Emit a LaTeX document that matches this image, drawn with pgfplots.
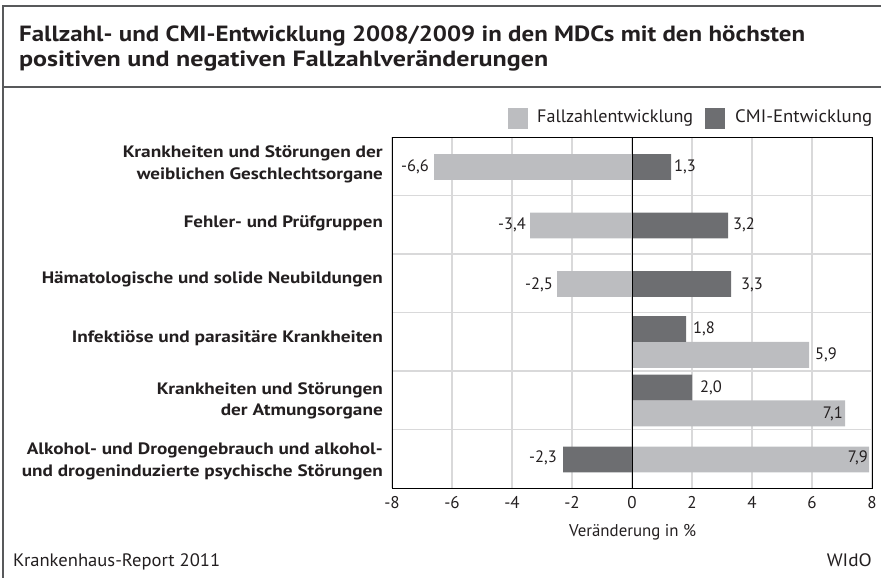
\documentclass[border=0pt]{standalone}
\usepackage{pgfplots}
\pgfplotsset{compat=1.18}
\usepackage{fontspec}
\setmainfont{PT Sans}
\usepackage{graphicx}

\definecolor{lightbar}{HTML}{BCBDC0}
\definecolor{darkbar}{HTML}{6D6E71}
\definecolor{gridc}{HTML}{D9D9DA}
\definecolor{framec}{HTML}{58595B}
\definecolor{txt}{HTML}{231F20}

% fit text to a measured width, natural height
\newcommand\fitw[2]{\resizebox{#1}{\height}{#2}}
\newcommand\catfont{\fontsize{16.5}{19}\selectfont\bfseries}
\newcommand\numfont{\fontsize{16.5}{19}\selectfont}

\begin{document}
\begin{tikzpicture}[x=1pt,y=1pt,every node/.style={inner sep=0pt,text=txt}]
\useasboundingbox (0,0) rectangle (881,578);

% frame
\draw[framec, line width=1.6pt] (3,0) -- (3,572) -- (881,572);
\draw[framec, line width=1.6pt] (3,491) -- (881,491);

% title
\node[anchor=base west] at (19,536) {\fitw{786pt}{\fontsize{22}{26}\selectfont\bfseries Fallzahl- und CMI-Entwicklung 2008/2009 in den MDCs mit den höchsten}};
\node[anchor=base west] at (19,511) {\fitw{529pt}{\fontsize{22}{26}\selectfont\bfseries positiven und negativen Fallzahlveränderungen}};

% legend
\fill[lightbar] (508,449) rectangle (528,470);
\node[anchor=base west] at (537,455) {\fitw{156pt}{\fontsize{18}{21}\selectfont Fallzahlentwicklung}};
\fill[darkbar] (705,449) rectangle (725,470);
\node[anchor=base west] at (735,455) {\fitw{137pt}{\fontsize{18}{21}\selectfont CMI-Entwicklung}};

\begin{axis}[
    at={(392pt,90pt)}, anchor=south west,
    scale only axis, width=480pt, height=351pt,
    xmin=-8, xmax=8, ymin=0, ymax=6,
    xtick={-8,-6,-4,-2,0,2,4,6,8},
    xticklabels={-8,-6,-4,-2,0,2,4,6,8},
    ytick={1,2,3,4,5}, yticklabels={},
    xmajorgrids, ymajorgrids,
    major grid style={gridc, line width=1.2pt},
    major tick length=0pt,
    axis line style={black, line width=0.7pt},
    xticklabel style={font=\fontsize{17}{20}\selectfont, text=txt, anchor=base, yshift=-21pt},
    xbar, bar width=0.444, bar shift=0pt,
    clip=false,
]
% Fallzahlentwicklung
\addplot[fill=lightbar, draw=none] coordinates {
    (-6.6,5.487) (-3.4,4.487) (-2.5,3.487) (5.9,2.274) (7.1,1.274) (7.9,0.487)
};
% CMI-Entwicklung
\addplot[fill=darkbar, draw=none] coordinates {
    (1.3,5.487) (3.2,4.487) (3.3,3.487) (1.8,2.718) (2.0,1.718) (-2.3,0.487)
};
\draw[black, line width=0.9pt] (axis cs:0,0) -- (axis cs:0,6);
\draw[black, line width=0.7pt] (rel axis cs:0,0) rectangle (rel axis cs:1,1);
\end{axis}

% value labels
\begin{scope}[every node/.append style={font=\numfont}]
\node[anchor=base east] at (429,406) {-6,6};
\node[anchor=base west] at (674,406) {1,3};
\node[anchor=base east] at (526,348) {-3,4};
\node[anchor=base west] at (733,348) {3,2};
\node[anchor=base east] at (553,288) {-2,5};
\node[anchor=base west] at (741,288) {3,3};
\node[anchor=base west] at (693,244) {1,8};
\node[anchor=base west] at (815,218) {5,9};
\node[anchor=base west] at (700,185) {2,0};
\node[anchor=base east] at (843,159) {7,1};
\node[anchor=base east] at (557,115) {-2,3};
\node[anchor=base east] at (868,115) {7,9};
\end{scope}

% category labels
\node[anchor=base east] at (383,420) {\fitw{260pt}{\catfont Krankheiten und Störungen der}};
\node[anchor=base east] at (383,398) {\fitw{246pt}{\catfont weiblichen Geschlechtsorgane}};
\node[anchor=base east] at (383,350) {\fitw{199pt}{\catfont Fehler- und Prüfgruppen}};
\node[anchor=base east] at (383,294) {\fitw{341pt}{\catfont Hämatologische und solide Neubildungen}};
\node[anchor=base east] at (383,235) {\fitw{311pt}{\catfont Infektiöse und parasitäre Krankheiten}};
\node[anchor=base east] at (383,183) {\fitw{226pt}{\catfont Krankheiten und Störungen}};
\node[anchor=base east] at (383,162) {\fitw{162pt}{\catfont der Atmungsorgane}};
\node[anchor=base east] at (383,123) {\fitw{356pt}{\catfont Alkohol- und Drogengebrauch und alkohol-}};
\node[anchor=base east] at (383,101) {\fitw{361pt}{\catfont und drogeninduzierte psychische Störungen}};

% axis title and footer
\node[anchor=base west] at (569,41) {\fitw{127pt}{\fontsize{17}{20}\selectfont Veränderung in \%}};
\node[anchor=base west] at (13,11) {\fitw{207pt}{\fontsize{18}{21}\selectfont Krankenhaus-Report 2011}};
\node[anchor=base east] at (872,11) {\fitw{45pt}{\fontsize{18}{21}\selectfont WIdO}};
\end{tikzpicture}
\end{document}
